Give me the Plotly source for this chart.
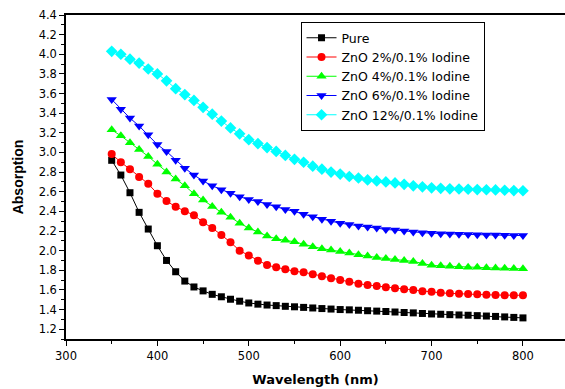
import plotly.graph_objects as go

# Wavelength grid (nm)
wavelength = list(range(350, 801, 10))

pure = [2.92, 2.77, 2.59, 2.39, 2.22, 2.05, 1.90, 1.785, 1.69, 1.63, 1.59, 1.555, 1.53,
        1.505, 1.485, 1.467, 1.455, 1.446, 1.44, 1.433, 1.428, 1.422, 1.416, 1.41, 1.405,
        1.40, 1.397, 1.393, 1.388, 1.384, 1.38, 1.375, 1.37, 1.366, 1.36, 1.355, 1.352,
        1.348, 1.345, 1.342, 1.338, 1.334, 1.33, 1.325, 1.32, 1.315]

zno_2 = [2.984, 2.90, 2.83, 2.75, 2.68, 2.58, 2.505, 2.447, 2.40, 2.36, 2.29, 2.23, 2.16,
         2.085, 2.00, 1.95, 1.897, 1.853, 1.83, 1.81, 1.79, 1.78, 1.76, 1.74, 1.72,
         1.70, 1.683, 1.663, 1.65, 1.64, 1.627, 1.616, 1.606, 1.60, 1.586, 1.58, 1.57,
         1.565, 1.56, 1.558, 1.555, 1.55, 1.548, 1.545, 1.545, 1.545]

zno_4 = [3.23, 3.17, 3.10, 3.03, 2.96, 2.88, 2.80, 2.73, 2.66, 2.58, 2.515, 2.45, 2.39,
         2.34, 2.28, 2.23, 2.19, 2.15, 2.12, 2.105, 2.09, 2.065, 2.04, 2.02, 2.006,
         1.99, 1.975, 1.958, 1.945, 1.93, 1.92, 1.91, 1.90, 1.89, 1.87, 1.85, 1.845,
         1.84, 1.835, 1.832, 1.83, 1.825, 1.822, 1.82, 1.818, 1.815]

zno_6 = [3.54, 3.44, 3.35, 3.27, 3.18, 3.08, 3.01, 2.92, 2.84, 2.77, 2.71, 2.66, 2.62,
         2.585, 2.55, 2.52, 2.50, 2.47, 2.447, 2.42, 2.40, 2.37, 2.345, 2.32, 2.30,
         2.28, 2.265, 2.25, 2.24, 2.23, 2.215, 2.21, 2.20, 2.19, 2.183, 2.178, 2.173,
         2.17, 2.168, 2.165, 2.163, 2.16, 2.158, 2.156, 2.155, 2.153]

zno_12 = [4.03, 4.00, 3.95, 3.91, 3.85, 3.80, 3.73, 3.65, 3.59, 3.53, 3.46, 3.39, 3.32,
          3.25, 3.19, 3.13, 3.09, 3.05, 3.01, 2.97, 2.93, 2.90, 2.86, 2.83, 2.80,
          2.78, 2.755, 2.74, 2.72, 2.71, 2.70, 2.69, 2.675, 2.66, 2.65, 2.64, 2.635,
          2.63, 2.628, 2.625, 2.622, 2.62, 2.618, 2.615, 2.612, 2.61]

series_names = ["Pure", "ZnO 2%/0.1% Iodine", "ZnO 4%/0.1% Iodine",
                "ZnO 6%/0.1% Iodine", "ZnO 12%/0.1% Iodine"]
series_values = [pure, zno_2, zno_4, zno_6, zno_12]
series_colors = ["#000000", "#FF0000", "#00FF00", "#0000FF", "#00FFFF"]
series_symbols = ["square", "circle", "triangle-up", "triangle-down", "diamond"]
series_sizes = [7, 8, 9, 9, 9]

fig = go.Figure()
for name, vals, col, sym, sz in zip(series_names, series_values, series_colors,
                                    series_symbols, series_sizes):
    fig.add_trace(go.Scatter(
        x=wavelength, y=vals, name=name, mode="lines+markers",
        line=dict(color=col, width=1),
        marker=dict(symbol=sym, size=sz, color=col, line=dict(width=0)),
    ))

axis_common = dict(
    showgrid=False, zeroline=False,
    showline=True, linecolor="black", linewidth=1.5,
    ticks="outside", ticklen=5, tickwidth=1, tickcolor="black",
    tickfont=dict(family="DejaVu Sans", size=11.5, color="black"),
)

fig.update_layout(
    width=565, height=389,
    margin=dict(l=66, r=0, t=15, b=50),
    paper_bgcolor="white", plot_bgcolor="white",
    font=dict(family="DejaVu Sans", color="black"),
    xaxis=dict(
        range=[300, 846], tick0=300, dtick=100, mirror=True,
        minor=dict(dtick=50, ticks="outside", ticklen=3, tickcolor="black"),
        title=dict(text="<b>Wavelength (nm)</b>", standoff=13,
                   font=dict(family="DejaVu Sans", size=13)),
        **axis_common,
    ),
    yaxis=dict(
        range=[1.1, 4.4], tick0=1.2, dtick=0.2, tickformat=".1f",
        minor=dict(dtick=0.1, ticks="outside", ticklen=3, tickcolor="black"),
        title=dict(text="<b>Absorption</b>", standoff=12,
                   font=dict(family="Liberation Sans", size=14)),
        **axis_common,
    ),
    legend=dict(
        x=0.47, y=0.978, xanchor="left", yanchor="top",
        bgcolor="white", bordercolor="black", borderwidth=1,
        font=dict(family="DejaVu Sans", size=12.5, color="black"),
        itemwidth=30, tracegroupgap=0,
    ),
    showlegend=True,
)

fig.write_html("out.html")
